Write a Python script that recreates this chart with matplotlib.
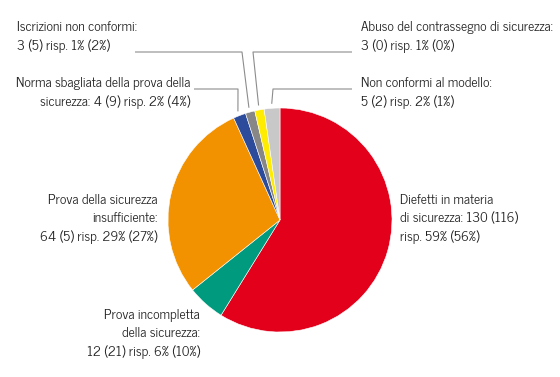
import numpy as np
import matplotlib.pyplot as plt

# ============================================================
# DATA (clockwise from 12 o'clock)
# ============================================================

CATEGORIES = [
    "Diefetti in materia\ndi sicurezza: 130 (116)\nrisp. 59% (56%)",
    "Prova incompletta\ndella sicurezza:\n12 (21) risp. 6% (10%)",
    "Prova della sicurezza\ninsufficiente:\n64 (5) risp. 29% (27%)",
    "Norma sbagliata della prova della\nsicurezza: 4 (9) risp. 2% (4%)",
    "Iscrizioni non conformi:\n3 (5) risp. 1% (2%)",
    "Abuso del contrassegno di sicurezza:\n3 (0) risp. 1% (0%)",
    "Non conformi al modello:\n5 (2) risp. 2% (1%)",
]
VALUES = [130, 12, 64, 4, 3, 3, 5]
COLORS = ["#e2001a", "#009a7e", "#f39200", "#2c4b9b", "#878787", "#ffec00", "#c8c8c8"]

# ============================================================
# LAYOUT (pixel coords, y from top)
# ============================================================

W, H = 560, 377
CX, CY, R = 280, 220, 112

# (x, y, ha, elbow x, line start x) ; elbow None = no leader line
LABEL_POS = [
    (400, 219, "left", None, None),
    (200, 334, "right", None, None),
    (158, 219, "right", None, None),
    (190, 93, "right", 238, 194),
    (17, 37, "left", 242, 135),
    (361, 37, "left", 253, 352),
    (361, 93, "left", 273, 352),
]
LINE_Y = {3: 89, 4: 52, 5: 52, 6: 89}

TEXT_COLOR = "#222222"
LINE_COLOR = "#8c8c8c"

plt.rcParams["font.family"] = ["News Cycle", "DejaVu Sans"]


def py(y):
    return H - y


fig = plt.figure(figsize=(W / 100, H / 100), dpi=100)
ax = fig.add_axes([0, 0, 1, 1])

wedges, _ = ax.pie(VALUES, colors=COLORS, startangle=90, counterclock=False,
                   center=(CX, py(CY)), radius=R,
                   wedgeprops=dict(linewidth=0.4, edgecolor="white"))

ax.set_xlim(0, W)
ax.set_ylim(0, H)
ax.set_aspect("equal")
ax.axis("off")

for i, (label, w) in enumerate(zip(CATEGORIES, wedges)):
    x, y, ha, elbow_x, start_x = LABEL_POS[i]
    ax.text(x, py(y), label, ha=ha, va="center", fontsize=9.8,
            color=TEXT_COLOR, linespacing=1.5)
    if elbow_x is None:
        continue
    mid = np.deg2rad((w.theta1 + w.theta2) / 2)
    ex = CX + R * 1.04 * np.cos(mid)
    ey = py(CY) + R * 1.04 * np.sin(mid)
    ly = py(LINE_Y[i])
    ax.plot([start_x, elbow_x, ex], [ly, ly, ey], color=LINE_COLOR, lw=0.8,
            solid_capstyle="butt")

fig.savefig("out.png", dpi=100, facecolor="white")
